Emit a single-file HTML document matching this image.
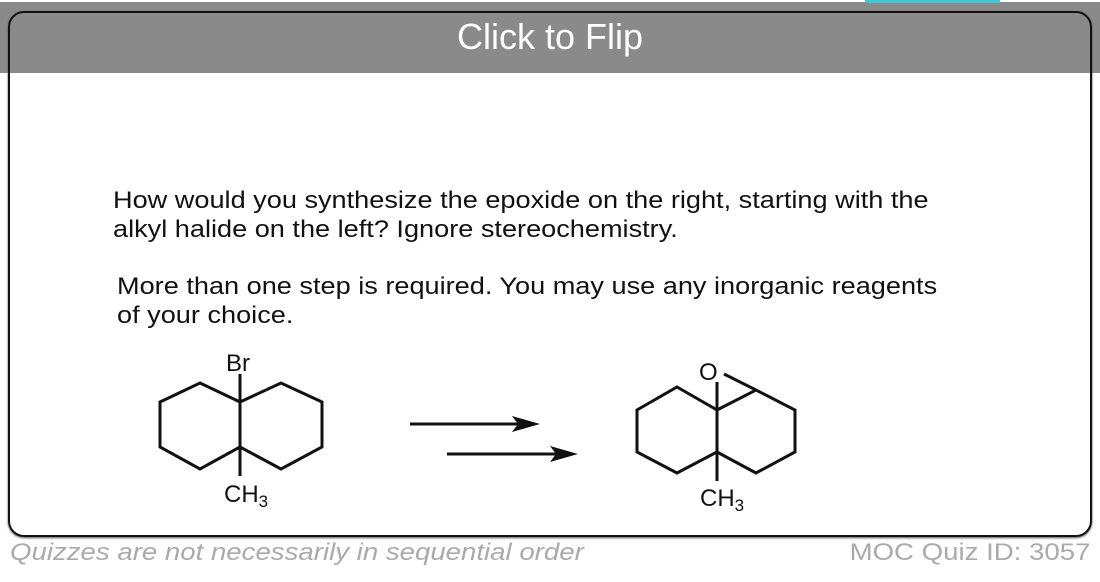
<!DOCTYPE html>
<html><head><style>
body{margin:0;width:1100px;height:582px;background:#fff;position:relative;overflow:hidden;font-family:"Liberation Sans",Arial,sans-serif}
.band{position:absolute;left:0;top:2px;width:1100px;height:71px;background:#8a8a8a}
.cyan{position:absolute;left:865px;top:0;width:135px;height:3px;background:#3cc8d8}
.card{position:absolute;left:8px;top:11px;width:1080px;height:522px;border:2.5px solid #111;border-radius:16px;box-shadow:0 1px 2px #555}
.flip{position:absolute;left:0;width:1100px;top:16px;text-align:center;color:#fff;font-size:36px}
.t{position:absolute;color:#111;font-size:24px;line-height:29px;white-space:nowrap;transform:scaleX(1.13);transform-origin:0 0}
.foot{position:absolute;top:539px;color:#aaa;font-size:24px;white-space:nowrap;transform:scaleX(1.15)}
</style></head><body>
<div class="band"></div><div class="cyan"></div>
<div class="card"></div>
<div class="flip">Click to Flip</div>
<div class="t" style="left:113px;top:186px">How would you synthesize the epoxide on the right, starting with the<br>alkyl halide on the left? Ignore stereochemistry.</div>
<div class="t" style="left:117px;top:272px">More than one step is required. You may use any inorganic reagents<br>of your choice.</div>
<svg style="position:absolute;left:0;top:0" width="1100" height="582">
<g fill="none" stroke="#111" stroke-width="3" stroke-linejoin="miter">
<polygon points="200,383 240,402 240,447 200,469 160,447 160,402"/>
<polyline points="240,402 281,383 322,402 322,447 281,469 240,447"/>
<line x1="240" y1="374" x2="240" y2="402"/>
<line x1="240" y1="447" x2="240" y2="476"/>
<polygon points="677,387 717,410 717,452 677,473 637,452 637,410"/>
<polyline points="717,410 756,390 795,410 795,452 756,473 717,452"/>
<line x1="717" y1="410" x2="717" y2="382"/>
<line x1="724" y1="374" x2="756" y2="390"/>
<line x1="717" y1="452" x2="717" y2="481"/>
<line x1="410" y1="424" x2="520" y2="424"/>
<line x1="447" y1="454" x2="558" y2="454"/>
</g>
<polygon points="540,424 512,416 518,424 512,432" fill="#111"/>
<polygon points="578,454 550,446 556,454 550,462" fill="#111"/>
<g font-family="Liberation Sans,Arial,sans-serif" font-size="24" fill="#111">
<text x="226" y="371">Br</text>
<text x="224" y="502">CH<tspan font-size="17" dy="5">3</tspan></text>
<text x="699" y="380">O</text>
<text x="700" y="506">CH<tspan font-size="17" dy="5">3</tspan></text>
</g>
</svg>
<div class="foot" style="left:10px;font-style:italic;transform-origin:0 0">Quizzes are not necessarily in sequential order</div>
<div class="foot" style="right:10px;transform-origin:100% 0">MOC Quiz ID: 3057</div>
</body></html>
